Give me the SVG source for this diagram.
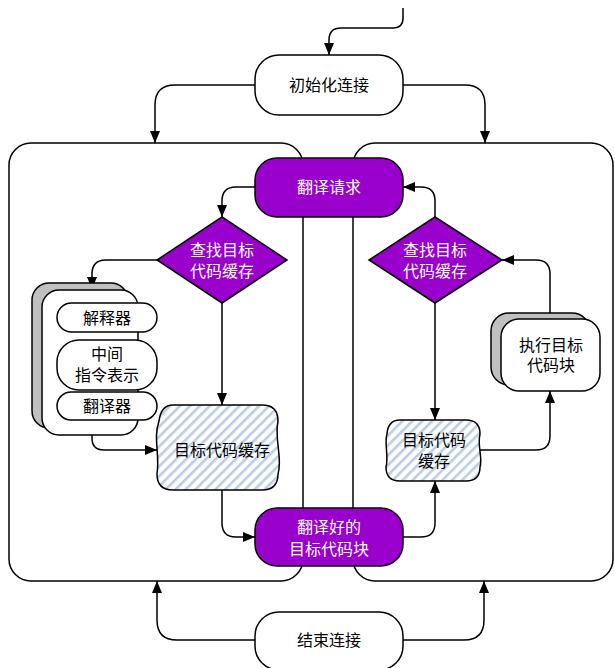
<svg xmlns="http://www.w3.org/2000/svg" width="615" height="668" viewBox="0 0 615 668">
<style>
.ln{fill:none;stroke:#000;stroke-width:1.5}
.arr{fill:none;stroke:#000;stroke-width:1.5;marker-end:url(#ah)}
.box{fill:#fff;stroke:#000;stroke-width:1.5}
.pur{fill:#9900cc;stroke:#000;stroke-width:1.5}
.sh{fill:#c0c0c0;stroke:#000;stroke-width:1.5}
.hat{fill:url(#hatch);stroke:#000;stroke-width:1.5}
text{font-family:"Liberation Serif","Noto Sans CJK SC",serif;font-size:16px;text-anchor:middle;dominant-baseline:central;fill:#000}
.w{fill:#fff}
</style>
<defs>
<marker id="ah" viewBox="0 0 12 10" refX="12" refY="5" markerWidth="12" markerHeight="10" markerUnits="userSpaceOnUse" orient="auto">
<path d="M0,0 L12,5 L0,10 Z" fill="#000"/>
</marker>
<pattern id="hatch" patternUnits="userSpaceOnUse" width="7" height="7" patternTransform="rotate(45)">
<rect width="7" height="7" fill="#fff"/>
<rect width="2.6" height="7" fill="#b9cde5"/>
</pattern>
</defs>
<rect width="615" height="668" fill="#fff"/>
<g id="frames">
<rect x="9" y="143" width="294" height="438" rx="22" class="ln"/>
<rect x="353" y="143" width="260" height="438" rx="22" class="ln"/>
</g>
<g id="connectors">
<path class="arr" d="M403,8 V18 Q403,28 393,28 H341 Q329,28 329,40 V55"/>
<path class="arr" d="M255,85 H175 Q155,85 155,105 V143"/>
<path class="arr" d="M403,85 H465 Q485,85 485,105 V143"/>
<path class="arr" d="M255,640 H177 Q157,640 157,620 V581"/>
<path class="arr" d="M403,640 H464 Q484,640 484,620 V581"/>
<path class="arr" d="M255,187 H236 Q222,187 222,201 V217"/>
<path class="arr" d="M157,260 H106 Q92,260 92,274 V289"/>
<path class="arr" d="M222,303 V405"/>
<path class="arr" d="M92,435 V438 Q92,450 104,450 H157"/>
<path class="arr" d="M222,490 V523 Q222,537 236,537 H255"/>
<path class="arr" d="M403,537 H421 Q435,537 435,523 V481"/>
<path class="arr" d="M435,303 V420"/>
<path class="arr" d="M435,217 V201 Q435,187 421,187 H403"/>
<path class="arr" d="M480,450 H536 Q550,450 550,436 V391"/>
<path class="arr" d="M550,313 V274 Q550,260 536,260 H502"/>
</g>
<g id="init">
<rect x="255" y="55" width="148" height="60" rx="24" class="box"/>
<text x="329" y="85">初始化连接</text>
</g>
<g id="end">
<rect x="255" y="612" width="148" height="58" rx="24" class="box"/>
<text x="329" y="640">结束连接</text>
</g>
<g id="request">
<rect x="255" y="158" width="148" height="59" rx="22" class="pur"/>
<text class="w" x="329" y="187">翻译请求</text>
</g>
<g id="lookup-left">
<polygon points="222,217 287,260 222,303 157,260" class="pur"/>
<text class="w" x="222" y="250">查找目标</text>
<text class="w" x="222" y="271">代码缓存</text>
</g>
<g id="lookup-right">
<polygon points="435,217 502,260 435,303 369,260" class="pur"/>
<text class="w" x="435" y="250">查找目标</text>
<text class="w" x="435" y="271">代码缓存</text>
</g>
<g id="translator-stack">
<rect x="32" y="283" width="96" height="145" rx="17" class="sh"/>
<rect x="42" y="290" width="96" height="145" rx="17" class="box"/>
<rect x="57" y="303" width="100" height="29" rx="14.5" class="box"/>
<text x="107" y="318">解释器</text>
<rect x="57" y="340" width="100" height="50" rx="22" class="box"/>
<text x="107" y="354">中间</text>
<text x="107" y="375">指令表示</text>
<rect x="57" y="392" width="100" height="28" rx="14" class="box"/>
<text x="107" y="406">翻译器</text>
</g>
<g id="cache-left">
<path class="hat" d="M173,405 H262 Q278,405 278,421 C274,440 283,458 278,474 Q278,490 262,490 H173 Q157,490 157,474 C160,455 153,438 159,421 Q161,405 173,405 Z"/>
<text x="222" y="450">目标代码缓存</text>
</g>
<g id="translated">
<rect x="255" y="508" width="148" height="58" rx="22" class="pur"/>
<text class="w" x="329" y="527">翻译好的</text>
<text class="w" x="329" y="549">目标代码块</text>
</g>
<g id="cache-right">
<path class="hat" d="M400,420 H466 Q480,420 480,434 C477,446 483,458 480,467 Q480,481 466,481 H400 Q386,481 386,467 C389,456 384,444 387,434 Q388,420 400,420 Z"/>
<text x="434" y="440">目标代码</text>
<text x="434" y="461">缓存</text>
</g>
<g id="execute">
<rect x="491" y="313" width="99" height="72" rx="18" class="sh"/>
<rect x="501" y="319" width="99" height="72" rx="18" class="box"/>
<text x="551" y="345">执行目标</text>
<text x="551" y="365">代码块</text>
</g>
</svg>
